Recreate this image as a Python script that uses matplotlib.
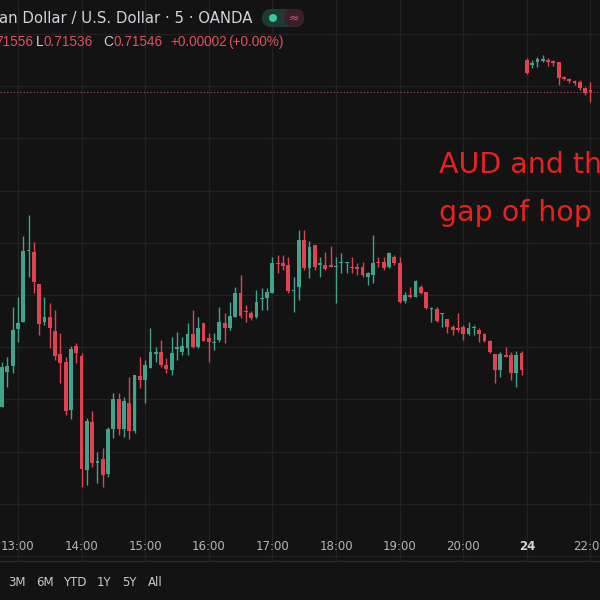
import matplotlib
matplotlib.use("Agg")
import matplotlib.pyplot as plt
import numpy as np
from matplotlib.patches import FancyBboxPatch, Circle

# OHLC values, in chart units (price = 0.7250 - v * 0.00002)
opens = [407,372,366,329,322,251,252,284,322,317,331,354,362,410,346,356,470,422,463,459,474,429,399,429,403,
         431,376,380,368,354,352,365,370,349,352,348,334,347,323,338,343,340,323,328,317,293,311,313,317,299,298,
         293,263,263,265,291,287,240,268,245,265,265,265,267,263,263,267,267,267,277,275,262,262,267,257,263,
         301,295,297,287,292,309,309,314,319,327,328,327,334,328,330,334,341,354,370,355,355,373,353,
         60,65,62,61,60,61,62,77,79,81,82,88,90]
closes = [367,366,330,323,251,250,282,324,317,328,356,363,411,349,353,469,421,463,461,475,429,399,429,401,431,
          375,380,365,352,352,365,369,353,347,346,334,347,328,341,342,342,322,328,316,293,316,312,318,302,298,292,
          263,264,266,291,290,240,268,247,267,263,269,267,266,262,262,268,269,275,273,263,263,268,253,263,302,
          295,297,281,293,308,308,321,313,327,330,330,334,328,327,334,341,352,370,354,357,373,355,370,
          73,63,59,59,62,63,78,79,81,83,88,93,92]
highs = [362,357,307,297,236,215,242,284,297,303,310,333,357,346,343,353,418,411,452,448,427,393,393,397,377,
         375,357,360,328,347,340,358,337,332,337,323,310,317,323,333,333,307,313,302,287,275,305,311,290,288,288,
         257,255,255,257,277,230,230,241,245,257,252,246,257,253,262,257,263,262,272,235,257,257,252,255,257,
         292,287,280,285,292,307,307,313,319,325,313,325,322,325,328,333,340,354,352,347,352,351,351,
         58,60,57,55,58,60,62,76,78,80,80,87,82]
lows = [407,387,373,342,322,277,293,335,325,348,360,383,415,419,363,487,485,467,483,487,477,438,435,437,439,
        433,388,403,368,362,367,373,375,360,355,355,348,348,341,362,350,342,343,330,317,318,322,320,318,310,310,
        293,273,270,293,312,300,270,278,270,277,270,267,303,273,273,273,275,277,285,283,267,270,268,265,303,
        303,298,297,294,309,322,322,327,333,335,332,340,335,335,342,342,353,383,377,357,380,387,375,
        74,68,67,62,66,66,85,80,83,85,90,95,102]

tick_idx = [3, 15, 27, 39, 51, 63, 75, 87, 99, 111]
tick_lbl = ["13:00", "14:00", "15:00", "16:00", "17:00", "18:00", "19:00", "20:00", "24", "22:00"]
ranges = ["3M", "6M", "YTD", "1Y", "5Y", "All"]
legend_parts = ["71556", "L", "0.71536", "C", "0.71546", "+0.00002", "(+0.00%)"]

BG = "#131313"
GREEN = "#40a38c"
RED = "#e0434f"
TXTRED = "#e2505a"
GRID = "#222222"

n = min(len(opens), len(closes), len(highs), len(lows))
to_price = lambda v: 0.7250 - np.array(v[:n]) * 0.00002
o, c, h, l = map(to_price, (opens, closes, highs, lows))
x = np.arange(n)

fig = plt.figure(figsize=(6, 6), dpi=100, facecolor=BG)
ax = fig.add_axes([0, 39/600, 1, 561/600])
ax.set_facecolor(BG)
ax.set_xlim(-0.38, 112.8)
ax.set_ylim(0.7250 - 561*0.00002, 0.7250)
for s in ax.spines.values():
    s.set_visible(False)
ax.set_xticks([]); ax.set_yticks([])

for xi in tick_idx:
    ax.axvline(xi, color=GRID, lw=1, zorder=0)
for yv in np.arange(34, 561, 52.2):
    ax.axhline(0.7250 - yv*0.00002, color=GRID, lw=1, zorder=0)

up = c >= o
cols = np.where(up, GREEN, RED)
ax.vlines(x, l, h, colors=cols, lw=1, zorder=2)
bottoms = np.minimum(o, c)
heights = np.maximum(np.abs(c - o), 0.000025)
ax.bar(x, heights, bottom=bottoms, width=0.72, color=cols, zorder=3, linewidth=0)

ax.axhline(0.7250 - 92*0.00002, color="#b0505a", lw=0.8, ls=(0, (1, 2)), zorder=1)

ax.text(439/600, 1 - 165/561, "AUD and th", transform=ax.transAxes, color="#e8231f",
        fontsize=20.5, va="center", ha="left")
ax.text(439/600, 1 - 213/561, "gap of hop", transform=ax.transAxes, color="#e8231f",
        fontsize=20.5, va="center", ha="left")

fig.text(-0.002, 1 - 18/600, "an Dollar / U.S. Dollar · 5 · OANDA", color="#d1d4dc",
         fontsize=10.7, va="center", ha="left")
fig.patches.append(FancyBboxPatch((262/600, 1-27/600), 42/600, 18/600, boxstyle="round,pad=0,rounding_size=0.015",
                                  transform=fig.transFigure, facecolor="#1f3a33", edgecolor="none"))
fig.patches.append(FancyBboxPatch((284/600, 1-27/600), 20/600, 18/600, boxstyle="round,pad=0,rounding_size=0.015",
                                  transform=fig.transFigure, facecolor="#3a1f2a", edgecolor="none"))
fig.patches.append(Circle((273/600, 1-18/600), 4/600, transform=fig.transFigure, facecolor="#35c9a0"))
fig.text(294/600, 1-18/600, "≈", color="#e04a78", fontsize=9, ha="center", va="center")

part_x = [33, 36, 43, 103, 113, 170, 228]
for px, txt in zip(part_x, legend_parts):
    col = "#d1d4dc" if txt in ("L", "C") else TXTRED
    fig.text(px/600, 1 - 42/600, txt, color=col, fontsize=9.8, va="center",
             ha="right" if txt == "71556" else "left", family="Liberation Sans")

fig.add_artist(plt.Line2D([0, 1], [39/600, 39/600], color="#2a2a2a", lw=1))
for xi, lb in zip(tick_idx, tick_lbl):
    px = ax.transData.transform((xi, 0))[0] / 600
    fig.text(px, 1 - 546/600, lb, color="#d1d4dc" if lb == "24" else "#b2b5be",
             fontsize=8.5, ha="center", va="center", weight="bold" if lb == "24" else "normal")

xs = [8, 36, 63, 97, 122, 148]
for px, r in zip(xs, ranges):
    fig.text(px/600, 1 - 583/600, r, color="#c8cad0", fontsize=8.5, ha="left", va="center")

fig.savefig("out.png", facecolor=BG)
